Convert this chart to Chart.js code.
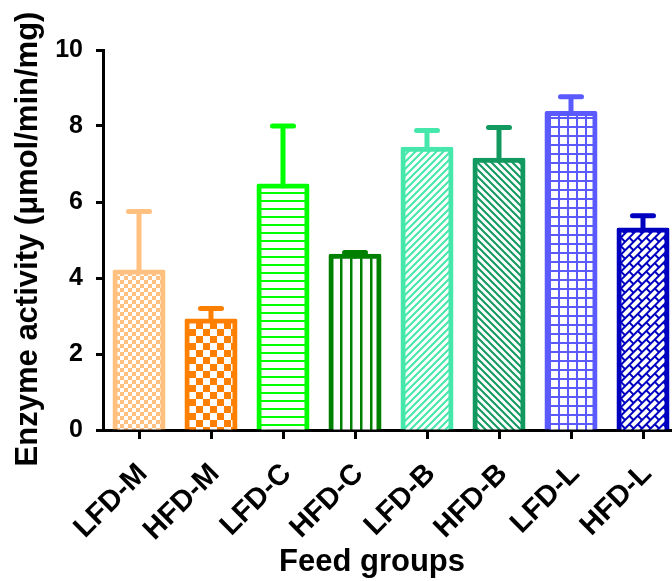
<!DOCTYPE html>
<html><head><meta charset="utf-8">
<script src="https://cdn.jsdelivr.net/npm/chart.js@4"></script>
<style>
html,body{margin:0;padding:0;background:#fff;overflow:hidden}
#wrap{width:672px;height:581px;overflow:hidden;position:relative;background:#fff}
canvas{display:block}
</style></head>
<body><div id="wrap"><canvas id="c" width="680" height="581"></canvas></div>
<script>
const categories = ['LFD-M','HFD-M','LFD-C','HFD-C','LFD-B','HFD-B','LFD-L','HFD-L'];
const means  = [4.16, 2.87, 6.42, 4.57, 7.39, 7.10, 8.33, 5.26];
const errors = [1.59, 0.33, 1.58, 0.10, 0.49, 0.86, 0.44, 0.38];
const colors = ['#FFC080','#FF8000','#00FF00','#008000','#45E8AA','#12995F','#5A5AFF','#0000C0'];
const fills  = ['checkS','checkL','hline','vline','diagF','diagB','grid','brick'];
const yTicks = [0, 2, 4, 6, 8, 10];
const xTitle = 'Feed groups';
const yTitle = 'Enzyme activity (\u03bcmol/min/mg)';

const FONT = '"Liberation Sans", Arial, sans-serif';
const canvas = document.getElementById('c');
const ctx0 = canvas.getContext('2d');

function tile(w, h, draw) {
  const c = document.createElement('canvas');
  c.width = w; c.height = h;
  const g = c.getContext('2d');
  g.fillStyle = '#fff'; g.fillRect(0, 0, w, h);
  draw(g);
  return c;
}
function makePattern(kind, color) {
  let t, rot = 0;
  switch (kind) {
    case 'checkS': t = tile(8, 8, g => { g.fillStyle = color; g.fillRect(0,0,4,4); g.fillRect(4,4,4,4); }); break;
    case 'checkL': t = tile(14, 14, g => { g.fillStyle = color; g.fillRect(0,0,7,7); g.fillRect(7,7,7,7); }); break;
    case 'hline': t = tile(8, 8, g => { g.fillStyle = color; g.fillRect(0,0,8,2); }); break;
    case 'vline': t = tile(10, 10, g => { g.fillStyle = color; g.fillRect(0,0,2.5,10); }); break;
    case 'diagF': t = tile(7, 7, g => { g.strokeStyle = color; g.lineWidth = 2; g.beginPath();
        g.moveTo(0,7); g.lineTo(7,0); g.moveTo(-1,1); g.lineTo(1,-1); g.moveTo(6,8); g.lineTo(8,6); g.stroke(); }); break;
    case 'diagB': t = tile(7, 7, g => { g.strokeStyle = color; g.lineWidth = 2; g.beginPath();
        g.moveTo(0,0); g.lineTo(7,7); g.moveTo(-1,6); g.lineTo(1,8); g.moveTo(6,-1); g.lineTo(8,1); g.stroke(); }); break;
    case 'grid': t = tile(9, 9, g => { g.fillStyle = color; g.fillRect(0,0,9,2); g.fillRect(0,0,2,9); }); break;
    case 'brick': t = tile(12, 12, g => { g.fillStyle = color; g.fillRect(0,0,12,2); g.fillRect(0,6,12,2);
        g.fillRect(0,0,2,6); g.fillRect(6,6,2,6); }); rot = -45; break;
  }
  const p = ctx0.createPattern(t, 'repeat');
  if (rot) p.setTransform(new DOMMatrix().rotate(rot));
  return p;
}
const patterns = fills.map((k, i) => makePattern(k, colors[i]));

const errorBars = {
  id: 'errorBars',
  afterDatasetsDraw(chart) {
    const ctx = chart.ctx;
    const meta = chart.getDatasetMeta(0);
    const ys = chart.scales.y;
    ctx.save();
    ctx.lineWidth = 5;
    ctx.lineCap = 'round';
    meta.data.forEach((bar, i) => {
      const top = ys.getPixelForValue(means[i] + errors[i]);
      ctx.strokeStyle = colors[i];
      ctx.beginPath();
      ctx.moveTo(bar.x, bar.y);
      ctx.lineTo(bar.x, top);
      ctx.moveTo(bar.x - 10.5, top);
      ctx.lineTo(bar.x + 10.5, top);
      ctx.stroke();
    });
    ctx.restore();
  }
};
const axisTitles = {
  id: 'axisTitles',
  afterDraw(chart) {
    const ctx = chart.ctx;
    ctx.save();
    ctx.fillStyle = '#000';
    ctx.font = 'bold 31px ' + FONT;
    ctx.textAlign = 'center';
    ctx.textBaseline = 'alphabetic';
    ctx.fillText(xTitle, 372, 571);
    ctx.translate(37, 239);
    ctx.rotate(-Math.PI / 2);
    ctx.fillText(yTitle, 0, 0);
    ctx.restore();
  }
};

new Chart(canvas, {
  type: 'bar',
  data: {
    labels: categories,
    datasets: [{
      data: means,
      backgroundColor: patterns,
      borderColor: colors,
      borderWidth: 5,
      borderSkipped: 'start',
      borderRadius: 2,
      inflateAmount: 2.5,
      categoryPercentage: 1,
      barPercentage: 0.667
    }]
  },
  options: {
    responsive: false,
    devicePixelRatio: 1,
    animation: false,
    events: [],
    layout: { padding: { top: 50, left: 0, right: 1, bottom: 0 } },
    plugins: { legend: { display: false }, tooltip: { enabled: false }, title: { display: false } },
    scales: {
      x: {
        z: 1,
        afterFit(s) { s.height = 151; s.paddingLeft = 0; s.paddingRight = 0; },
        grid: { display: true, drawOnChartArea: false, offset: false, tickLength: 9, tickWidth: 3, tickColor: '#000' },
        border: { display: true, color: '#000', width: 3 },
        ticks: { color: '#000', font: { family: FONT, size: 29, weight: 'bold' }, minRotation: 45, maxRotation: 45, padding: 18, labelOffset: 4, autoSkip: false }
      },
      y: {
        min: 0, max: 10,
        afterFit(s) { s.width = 103; s.paddingTop = 0; s.paddingBottom = 0; },
        afterBuildTicks(s) { s.ticks = yTicks.map(v => ({ value: v })); },
        grid: { display: true, drawOnChartArea: false, tickLength: 7, tickWidth: 3, tickColor: '#000' },
        border: { display: true, color: '#000', width: 3 },
        ticks: { color: '#000', font: { family: FONT, size: 25, weight: 'bold' }, padding: 13 }
      }
    }
  },
  plugins: [errorBars, axisTitles]
});
</script>
</body></html>
